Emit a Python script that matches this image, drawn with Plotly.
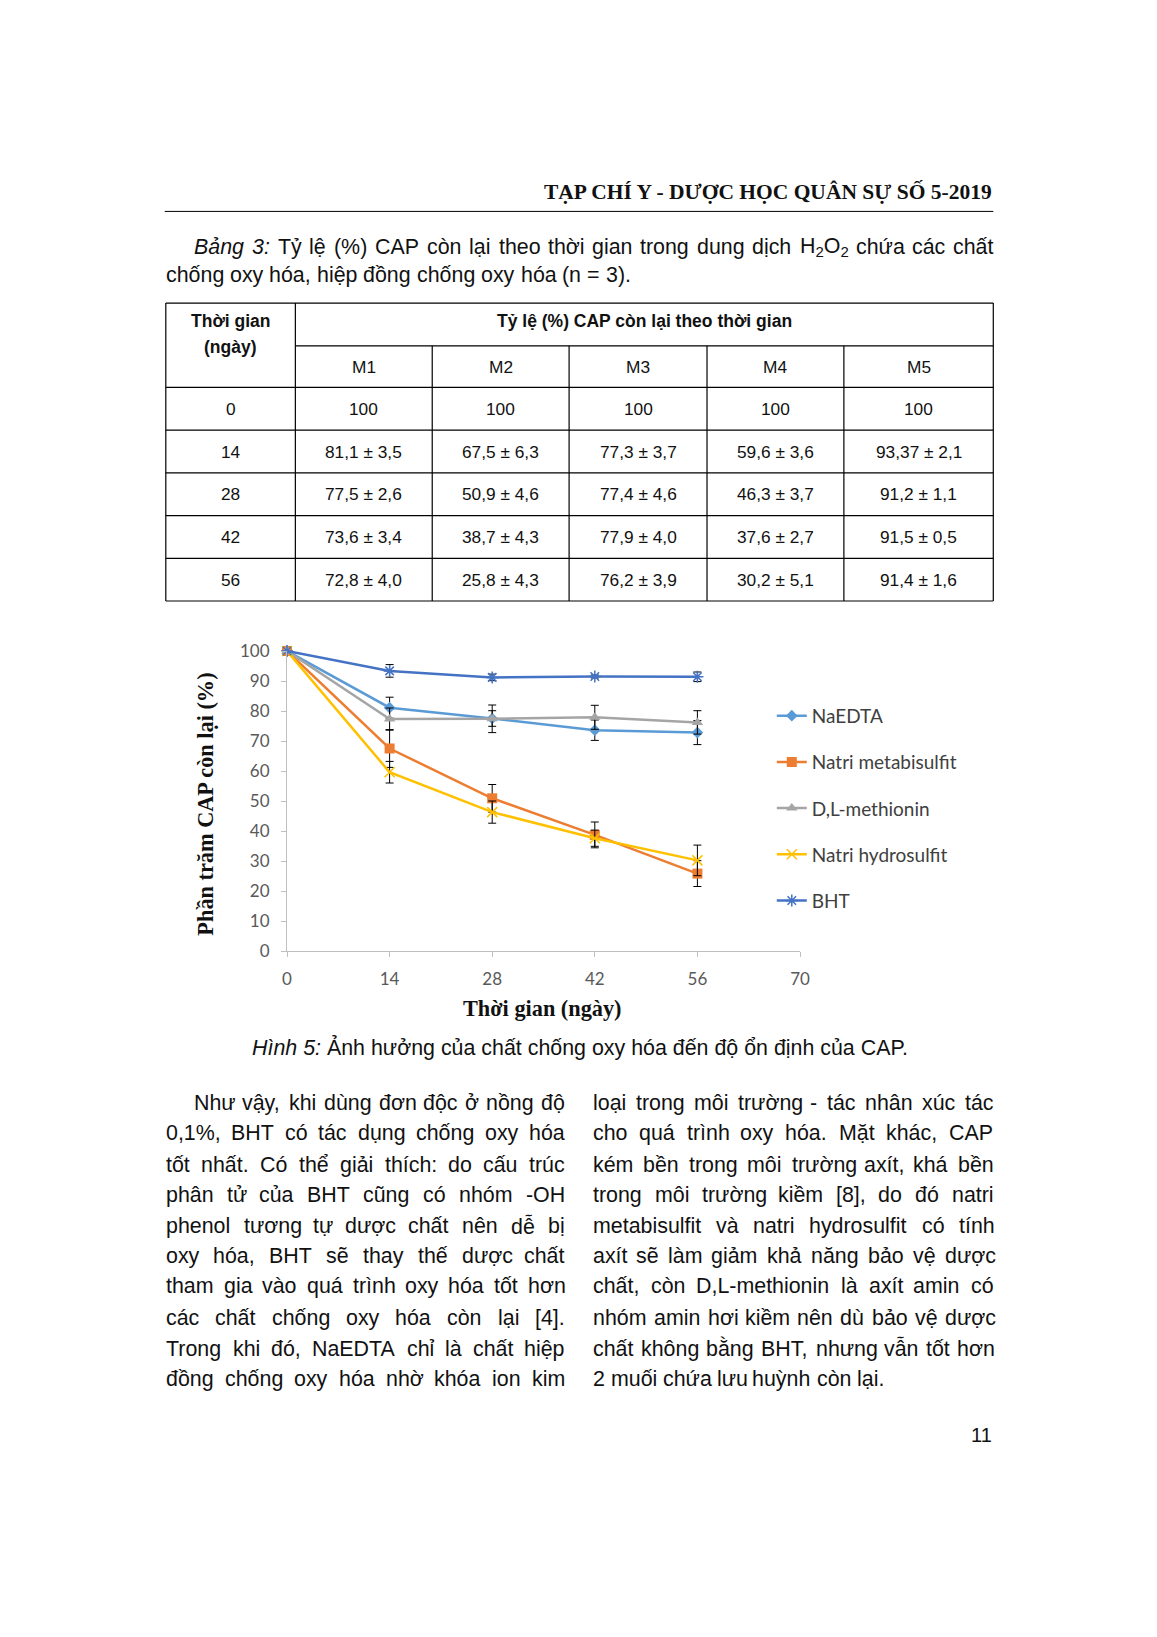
import re
import unicodedata
import plotly.graph_objects as go

# ---------------- data ----------------
days = [0, 14, 28, 42, 56]
series_names = ["NaEDTA", "Natri metabisulfit", "D,L-methionin", "Natri hydrosulfit", "BHT"]
table_cols = ["M1", "M2", "M3", "M4", "M5"]
m1_mean = [100, 81.1, 77.5, 73.6, 72.8]
m1_sd = [None, 3.5, 2.6, 3.4, 4.0]
m2_mean = [100, 67.5, 50.9, 38.7, 25.8]
m2_sd = [None, 6.3, 4.6, 4.3, 4.3]
m3_mean = [100, 77.3, 77.4, 77.9, 76.2]
m3_sd = [None, 3.7, 4.6, 4.0, 3.9]
m4_mean = [100, 59.6, 46.3, 37.6, 30.2]
m4_sd = [None, 3.6, 3.7, 2.7, 5.1]
m5_mean = [100, 93.37, 91.2, 91.5, 91.4]
m5_sd = [None, 2.1, 1.1, 0.5, 1.6]
x_ticks = [0, 14, 28, 42, 56, 70]
y_ticks = [0, 10, 20, 30, 40, 50, 60, 70, 80, 90, 100]

header_text = "TẠP CHÍ Y - DƯỢC HỌC QUÂN SỰ SỐ 5-2019"
caption_lines = [
    "<i>Bảng</i> <i>3:</i> Tỷ lệ (%) CAP còn lại theo thời gian trong dung dịch H<sub>2</sub>O<sub>2</sub> chứa các chất",
    "chống oxy hóa, hiệp đồng chống oxy hóa (n = 3).",
]
fig_caption = "<i>Hình 5:</i> Ảnh hưởng của chất chống oxy hóa đến độ ổn định của CAP."
left_col = [
    "Như vậy, khi dùng đơn độc ở nồng độ",
    "0,1%, BHT có tác dụng chống oxy hóa",
    "tốt nhất. Có thể giải thích: do cấu trúc",
    "phân tử của BHT cũng có nhóm -OH",
    "phenol tương tự dược chất nên dễ bị",
    "oxy hóa, BHT sẽ thay thế dược chất",
    "tham gia vào quá trình oxy hóa tốt hơn",
    "các chất chống oxy hóa còn lại [4].",
    "Trong khi đó, NaEDTA chỉ là chất hiệp",
    "đồng chống oxy hóa nhờ khóa ion kim",
]
right_col = [
    "loại trong môi trường - tác nhân xúc tác",
    "cho quá trình oxy hóa. Mặt khác, CAP",
    "kém bền trong môi trường axít, khá bền",
    "trong môi trường kiềm [8], do đó natri",
    "metabisulfit và natri hydrosulfit có tính",
    "axít sẽ làm giảm khả năng bảo vệ dược",
    "chất, còn D,L-methionin là axít amin có",
    "nhóm amin hơi kiềm nên dù bảo vệ dược",
    "chất không bằng BHT, nhưng vẫn tốt hơn",
    "2 muối chứa lưu huỳnh còn lại.",
]
page_number = "11"

# ---------------- layout helpers ----------------
# page body has an 8px margin in the browser; figure is sized to fit inside it
FW, FH = 1141, 1621
SC = 1157 / 1108


def S(v):
    """reference-sketch coordinate -> figure pixel coordinate"""
    return v * SC - 8


ML, MR, MT, MB = S(275), S(766), S(623), S(911)
PW, PH = MR - ML, MB - MT


def X(v):
    return (S(v) - ML) / PW


def Y(v):
    return (MB - S(v)) / PH


REG = {' ': 278, '%': 889, '(': 333, ')': 333, ',': 278, '-': 333, '.': 278, ':': 278,
       '[': 278, ']': 278, '=': 584, '±': 584,
       'A': 667, 'B': 667, 'C': 722, 'D': 722, 'E': 667, 'F': 611, 'G': 778, 'H': 722,
       'I': 278, 'J': 500, 'K': 667, 'L': 556, 'M': 833, 'N': 722, 'O': 778, 'P': 667,
       'Q': 778, 'R': 722, 'S': 667, 'T': 611, 'U': 722, 'V': 667, 'W': 944, 'X': 667,
       'Y': 667, 'Z': 611,
       'a': 556, 'b': 556, 'c': 500, 'd': 556, 'e': 556, 'f': 278, 'g': 556, 'h': 556,
       'i': 222, 'j': 222, 'k': 500, 'l': 222, 'm': 833, 'n': 556, 'o': 556, 'p': 556,
       'q': 556, 'r': 333, 's': 500, 't': 278, 'u': 556, 'v': 500, 'w': 722, 'x': 500,
       'y': 500, 'z': 500}
for d in "0123456789":
    REG[d] = 556


def char_w(ch):
    if ch in REG:
        return REG[ch]
    if ch == 'đ':
        return 556
    if ch == 'Đ':
        return 722
    dec = unicodedata.normalize('NFD', ch)
    extra = 50 if '\u031b' in dec else 0
    return REG.get(dec[0], 556) + extra


def text_w(s, size):
    """width in reference-sketch units"""
    total, scale = 0.0, 1.0
    for tok in re.split(r'(<[^>]+>)', s):
        if tok.startswith('<'):
            if tok == '<sub>':
                scale = 0.7
            elif tok == '</sub>':
                scale = 1.0
            continue
        for ch in tok:
            total += char_w(ch) * scale
    return total * size / 1000 / SC


annotations = []
shapes = []
BODY_FONT = dict(family="Liberation Sans, Arial", size=21.4, color="#111111")


def add_text(px, py, text, font, xanchor="center", yanchor="middle", angle=0):
    annotations.append(dict(x=X(px), y=Y(py), xref="paper", yref="paper", text=text,
                            showarrow=False, xanchor=xanchor, yanchor=yanchor,
                            font=font, textangle=angle, borderpad=0, borderwidth=0))


def add_line(x0, y0, x1, y1, width=1, color="#000000"):
    shapes.append(dict(type="line", xref="paper", yref="paper", x0=X(x0), y0=Y(y0),
                       x1=X(x1), y1=Y(y1), line=dict(color=color, width=width)))


def justified(line, x0, x1, py, justify=True, font=BODY_FONT):
    words = line.split(' ')
    ws = [text_w(w, font["size"]) for w in words]
    if justify and len(words) > 1:
        gap = (x1 - x0 - sum(ws)) / (len(words) - 1)
    else:
        gap = REG[' '] * font["size"] / 1000 / SC
    x = x0
    for w, ww in zip(words, ws):
        add_text(x, py, w, font, xanchor="left")
        x += ww + gap


# ---------------- header ----------------
add_text(950, 182, f"<b>{header_text}</b>",
         dict(family="Liberation Serif, Times New Roman", size=21.5, color="#111111"),
         xanchor="right")
add_line(158, 201, 951, 201, width=1)

# caption of table
justified(caption_lines[0], 186, 951, 235)
justified(caption_lines[1], 159, 951, 262, justify=False)

# ---------------- table ----------------
col_edges = [159, 283, 414, 545, 677, 808, 951]
row_edges = [289, 330, 370, 411, 452, 493, 534, 575]
TFONT = dict(family="Liberation Sans, Arial", size=17.3, color="#111111")
TBFONT = dict(family="Liberation Sans, Arial", size=17.5, color="#111111")
for i, ry in enumerate(row_edges):
    x_start = col_edges[1] if i == 1 else col_edges[0]
    add_line(x_start, ry, col_edges[-1], ry, width=1.2)
for j, cx in enumerate(col_edges):
    y_start = row_edges[1] if j in (2, 3, 4, 5) else row_edges[0]
    add_line(cx, y_start, cx, row_edges[-1], width=1.2)

c_first = (col_edges[0] + col_edges[1]) / 2
add_text(c_first, 306, "<b>Thời gian</b>", TBFONT)
add_text(c_first, 331, "<b>(ngày)</b>", TBFONT)
add_text((col_edges[1] + col_edges[-1]) / 2, 306, "<b>Tỷ lệ (%) CAP còn lại theo thời gian</b>", TBFONT)
for j, name in enumerate(table_cols):
    add_text((col_edges[j + 1] + col_edges[j + 2]) / 2, (row_edges[1] + row_edges[2]) / 2, name, TFONT)


def fmt(v):
    if v is None:
        return ""
    s = f"{v:.1f}" if round(v, 1) == v else f"{v}"
    if float(s) == 100:
        s = "100"
    return s.replace('.', ',')


all_means = [m1_mean, m2_mean, m3_mean, m4_mean, m5_mean]
all_sd = [m1_sd, m2_sd, m3_sd, m4_sd, m5_sd]
for i, dday in enumerate(days):
    cy = (row_edges[i + 2] + row_edges[i + 3]) / 2
    add_text(c_first, cy, str(dday), TFONT)
    for j in range(5):
        m, sd = all_means[j][i], all_sd[j][i]
        txt = fmt(m) if sd is None else f"{fmt(m)} ± {fmt(sd)}"
        add_text((col_edges[j + 1] + col_edges[j + 2]) / 2, cy, txt, TFONT)

# ---------------- chart ----------------
colors = ["#5B9BD5", "#ED7D31", "#A5A5A5", "#FFC000", "#4472C4"]
markers = [dict(symbol="diamond", size=9),
           dict(symbol="square", size=10),
           dict(symbol="triangle-up", size=10),
           dict(symbol="x-thin-open", size=10, line=dict(width=1.5)),
           dict(symbol="asterisk-open", size=10, line=dict(width=1.5))]

fig = go.Figure()
for k in range(5):
    mk = dict(markers[k])
    mk["color"] = colors[k]
    if "line" in mk:
        mk["line"] = dict(width=mk["line"]["width"], color=colors[k])
    fig.add_trace(go.Scatter(
        x=days, y=all_means[k], name=series_names[k], mode="lines+markers",
        line=dict(color=colors[k], width=2.5), marker=mk, cliponaxis=False,
        legendgroup=f"g{k}",
        error_y=dict(type="data", array=all_sd[k], visible=True, color="#000000",
                     thickness=1, width=4)))

# axis titles
TITLE_FONT = dict(family="Liberation Serif, Times New Roman", size=22.3, color="#111111")
add_text(520, 966, "<b>Thời gian (ngày)</b>", TITLE_FONT)
add_text(197, 770, "<b>Phần trăm CAP còn lại (%)</b>", TITLE_FONT, angle=-90)

# figure caption, body, page number
add_text(555, 1004, fig_caption, BODY_FONT)
line_ys = [1057, 1086, 1116, 1145, 1175, 1204, 1233, 1263, 1293, 1322]
for i, ln in enumerate(left_col):
    justified(ln, 186 if i == 0 else 159, 541, line_ys[i])
for i, ln in enumerate(right_col):
    justified(ln, 568, 951, line_ys[i], justify=(i < len(right_col) - 1))
add_text(950, 1376, page_number, dict(family="Liberation Sans, Arial", size=20, color="#111111"),
         xanchor="right")

TICK_FONT = dict(family="Lato, Open Sans", size=17, color="#595959")
fig.update_layout(
    width=FW, height=FH,
    margin=dict(l=ML, r=FW - MR, t=MT, b=FH - MB, pad=0, autoexpand=False),
    paper_bgcolor="white", plot_bgcolor="white",
    showlegend=True,
    legend=dict(x=X(739), y=Y(667), xanchor="left", yanchor="top",
                font=dict(family="Lato, Open Sans", size=19, color="#404040"),
                traceorder="grouped", tracegroupgap=18.5, bgcolor="rgba(0,0,0,0)"),
    xaxis=dict(range=[0, 70], tickvals=x_ticks, showgrid=False, zeroline=False,
               showline=True, linecolor="#BFBFBF", linewidth=1,
               ticks="outside", ticklen=5, tickcolor="#BFBFBF",
               tickfont=TICK_FONT, ticklabelstandoff=8),
    yaxis=dict(range=[0, 100], tickvals=y_ticks, showgrid=False, zeroline=False,
               showline=True, linecolor="#BFBFBF", linewidth=1,
               ticks="outside", ticklen=5, tickcolor="#BFBFBF",
               tickfont=TICK_FONT, ticklabelstandoff=8),
    annotations=annotations,
    shapes=shapes,
)

fig.write_html("out.html")
